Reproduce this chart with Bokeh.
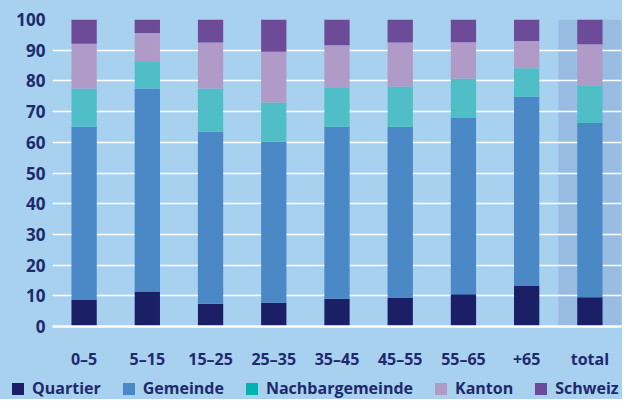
from bokeh.plotting import figure
from bokeh.layouts import column
from bokeh.models import FactorRange, Range1d, Legend, LegendItem, ColumnDataSource
from bokeh.embed import file_html
from bokeh.resources import INLINE

categories = ["0–5", "5–15", "15–25", "25–35", "35–45", "45–55", "55–65", "+65", "total"]
series = ["Quartier", "Gemeinde", "Nachbargemeinde", "Kanton", "Schweiz"]
quartier = [8.6, 11.4, 7.4, 7.7, 9.0, 9.3, 10.5, 13.2, 9.5]
gemeinde = [56.5, 66.1, 56.1, 52.5, 56.1, 55.8, 57.4, 61.6, 56.8]
nachbargemeinde = [12.4, 8.9, 14.0, 12.8, 12.8, 13.1, 12.9, 9.3, 12.1]
kanton = [14.6, 9.2, 15.0, 16.5, 13.7, 14.3, 11.8, 8.9, 13.5]
schweiz = [7.9, 4.4, 7.5, 10.5, 8.4, 7.5, 7.4, 7.0, 8.1]
highlight = ["total"]
y_ticks = [0, 10, 20, 30, 40, 50, 60, 70, 80, 90, 100]

BG = "#a8d0ef"
HL = "#99bce2"
TEXT = "#1e2a6b"
FONT = "Open Sans"
bar_colors = ["#1b2066", "#4a88c6", "#4fbec6", "#b09bc8", "#6d4b98"]
legend_colors = ["#1b2066", "#4a88c6", "#00b2b0", "#b09bc8", "#6d4b98"]

W = 622
src = ColumnDataSource(dict(cat=categories, Quartier=quartier, Gemeinde=gemeinde,
                            Nachbargemeinde=nachbargemeinde, Kanton=kanton, Schweiz=schweiz))

p = figure(x_range=FactorRange(*categories), y_range=Range1d(0, 100),
           width=W, height=372, output_backend="svg", toolbar_location=None,
           background_fill_color=BG, border_fill_color=BG, outline_line_color=None,
           min_border_left=52, min_border_right=1, min_border_top=19, min_border_bottom=45)

# highlighted column band
hl = p.vbar(x=highlight, top=[100], bottom=[0], width=1.0, fill_color=HL, line_color=None)
hl.level = "image"

p.vbar_stack(series, x="cat", width=0.4, source=src, color=bar_colors, line_color=None)

p.xgrid.grid_line_color = None
p.ygrid.grid_line_color = "white"
p.ygrid.grid_line_width = 1.5
p.yaxis.ticker = y_ticks

for ax in (p.xaxis[0], p.yaxis[0]):
    ax.major_tick_line_color = None
    ax.minor_tick_line_color = None
    ax.major_label_text_font = FONT
    ax.major_label_text_font_style = "bold"
    ax.major_label_text_color = TEXT
    ax.major_label_text_font_size = "16px"
p.yaxis.major_label_text_font_size = "17px"
p.yaxis.axis_line_color = None
p.yaxis.major_label_standoff = 1
p.xaxis.axis_line_color = "white"
p.xaxis.axis_line_width = 2.5
p.xaxis.major_label_standoff = 15
p.xaxis.group_text_font_size = "0px"

# legend strip
lf = figure(x_range=Range1d(0, 1), y_range=Range1d(0, 1), width=W, height=27,
            x_axis_location=None, y_axis_location=None,
            output_backend="svg", toolbar_location=None,
            background_fill_color=BG, border_fill_color=BG, outline_line_color=None,
            min_border=0, min_border_left=0, min_border_right=0,
            min_border_top=0, min_border_bottom=0)
lf.grid.grid_line_color = None

leg_x, leg_spacing = 10, 20
try:
    p.frame_align = False
    lf.frame_align = False
except Exception:
    leg_x, leg_spacing = 0, 10

proxies = []
for name, col in zip(series, legend_colors):
    r = lf.vbar(x=[0.5], top=[0], bottom=[0], width=0.01, fill_color=col, line_color=None)
    proxies.append(LegendItem(label=name, renderers=[r]))

legend = Legend(items=proxies, orientation="horizontal", location=(leg_x, 0),
                border_line_color=None, background_fill_alpha=0,
                glyph_width=15, glyph_height=15, label_standoff=7, spacing=leg_spacing,
                padding=0, margin=0,
                label_text_font=FONT, label_text_font_style="bold",
                label_text_color=TEXT, label_text_font_size="16px")
lf.add_layout(legend)

layout = column(p, lf, spacing=0, background=BG)
open("out.html", "w").write(file_html(layout, INLINE))
